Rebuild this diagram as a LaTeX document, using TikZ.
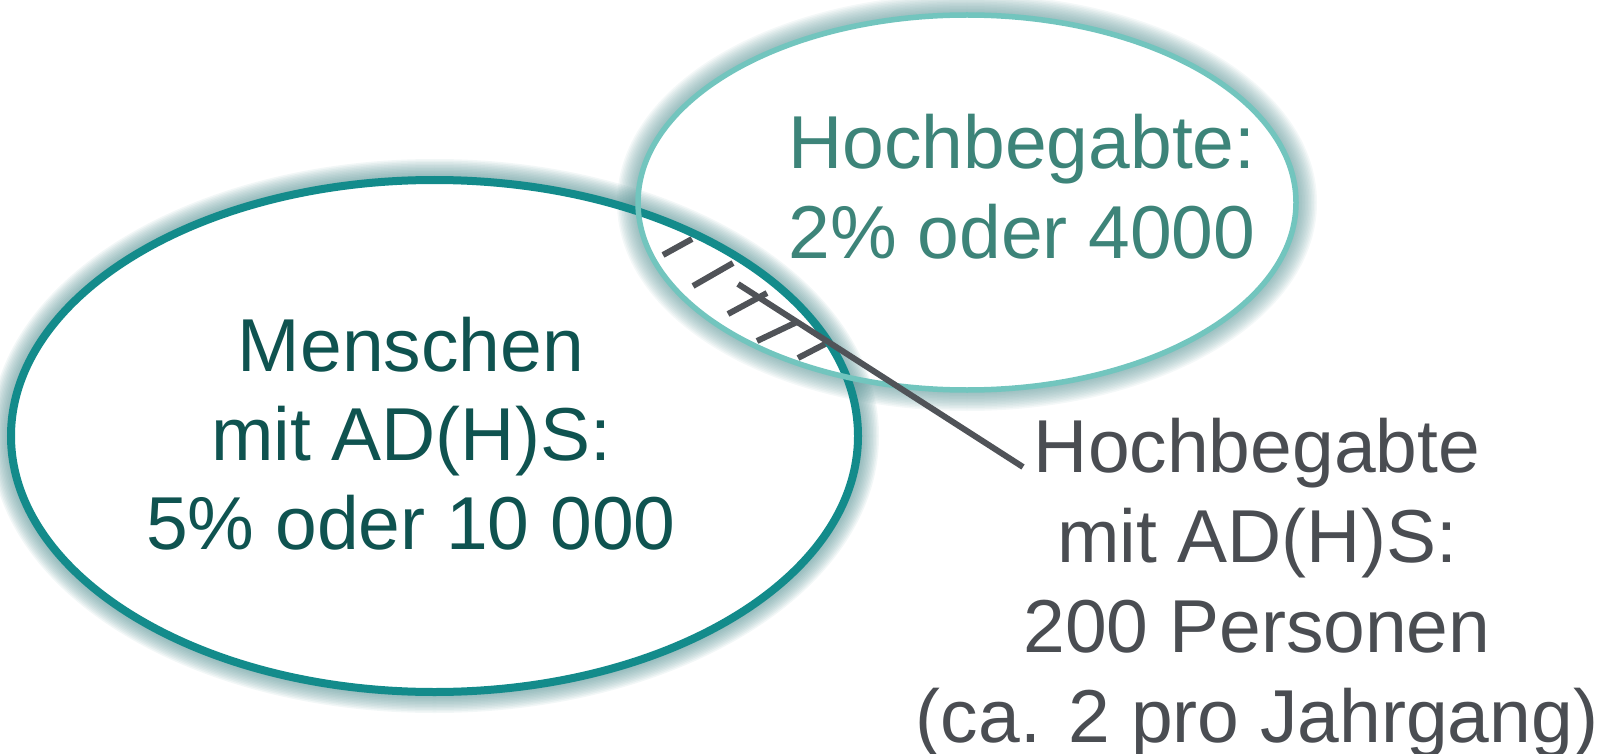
\documentclass[tikz,border=0pt]{standalone}
\usepackage{fontspec}
\setmainfont{Liberation Sans}
\definecolor{bigc}{HTML}{138B8B}
\definecolor{smallc}{HTML}{72C5BE}
\definecolor{glowc}{HTML}{5A9496}
\definecolor{toptext}{HTML}{3D8479}
\definecolor{lefttext}{HTML}{0F5350}
\definecolor{graytext}{HTML}{4A4D52}
\definecolor{hatchc}{HTML}{505358}
\tikzset{
  bigtext/.style={font=\fontsize{75}{89}\selectfont, align=center, anchor=base, inner sep=0pt},
  hatchline/.style={draw=hatchc, line width=6pt},
}
\begin{document}
\begin{tikzpicture}[x=1pt,y=-1pt]
\useasboundingbox (0,0) rectangle (1608,754);
% glows (outer only)
\begin{scope}[even odd rule]
  \clip (-20,-20) rectangle (1630,780) (434.5,436) ellipse [x radius=423.5, y radius=256];
  \foreach \w in {1,...,14}
    \draw[glowc, opacity=0.08, line width=\w*3pt] (434.5,436) ellipse [x radius=423.5, y radius=256];
\end{scope}
\begin{scope}[even odd rule]
  \clip (-20,-20) rectangle (1630,780) (967,202.5) ellipse [x radius=329, y radius=187.5];
  \foreach \w in {1,...,14}
    \draw[glowc, opacity=0.065, line width=\w*3pt] (967,202.5) ellipse [x radius=329, y radius=187.5];
\end{scope}
% hatching
\draw[hatchline] (663,255) -- (692,239);
\draw[hatchline] (693,286) -- (733,263);
\draw[hatchline] (728,314) -- (767,293);
\draw[hatchline] (757,341) -- (797,322);
\draw[hatchline] (798,358) -- (827,343);
% ellipses
\draw[bigc, line width=8pt] (434.5,436) ellipse [x radius=423.5, y radius=256];
\draw[smallc, line width=5.5pt] (967,202.5) ellipse [x radius=329, y radius=187.5];
% leader
\coordinate (lens) at (738,284);
\coordinate (lend) at (1023,467);
\draw[hatchline] (lens) -- (lend);
% texts (anchor base = baseline of last line)
\node[bigtext, text=toptext] (hb) at (1022,258) {Hochbegabte:\\2\% oder 4000};
\node[bigtext, text=lefttext] (adhs) at (411,549) {Menschen\\mit AD(H)S:\\5\% oder 10 000};
\node[bigtext, text=graytext, font=\fontsize{75}{90}\selectfont] (both) at (1257,742) {Hochbegabte\\mit AD(H)S:\\200 Personen\\(ca. 2 pro Jahrgang)};
\end{tikzpicture}
\end{document}
